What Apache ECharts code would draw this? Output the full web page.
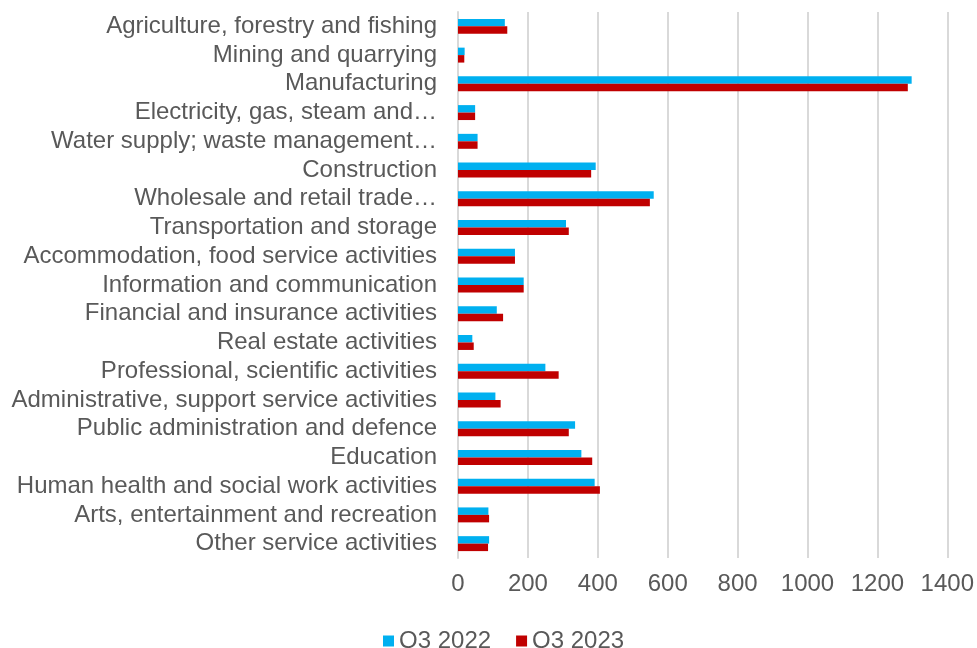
<!DOCTYPE html>
<html>
<head>
<meta charset="utf-8">
<script src="https://cdn.jsdelivr.net/npm/echarts@6/dist/echarts.min.js"></script>
<style>
html,body{margin:0;padding:0;background:#fff;}
#chart{width:977px;height:648px;}
</style>
</head>
<body>
<div id="chart"></div>
<script>
var categories = [
  "Agriculture, forestry and fishing",
  "Mining and quarrying",
  "Manufacturing",
  "Electricity, gas, steam and\u2026",
  "Water supply; waste management\u2026",
  "Construction",
  "Wholesale and retail trade\u2026",
  "Transportation and storage",
  "Accommodation, food service activities",
  "Information and communication",
  "Financial and insurance activities",
  "Real estate activities",
  "Professional, scientific activities",
  "Administrative, support service activities",
  "Public administration and defence",
  "Education",
  "Human health and social work activities",
  "Arts, entertainment and recreation",
  "Other service activities"
];
var q3_2022 = [134, 19, 1298, 49, 56, 394, 560, 309, 163, 188, 111, 41, 250, 107, 335, 353, 391, 87, 89];
var q3_2023 = [141, 18, 1287, 49, 56, 381, 549, 317, 163, 188, 129, 45, 288, 122, 317, 384, 406, 89, 86];
var xTicks = {min: 0, max: 1400, interval: 200};

var font = "Liberation Sans, Arial, sans-serif";
var chart = echarts.init(document.getElementById('chart'), null, {renderer: 'canvas'});
chart.setOption({
  animation: false,
  backgroundColor: '#ffffff',
  textStyle: {fontFamily: font},
  legend: {
    left: 378, top: 624,
    itemWidth: 11, itemHeight: 11, itemGap: 25,
    icon: 'rect',
    textStyle: {fontFamily: font, fontSize: 24, color: '#595959'},
    data: ['Q3 2022', 'Q3 2023']
  },
  grid: {left: 458, right: 28, top: 12, bottom: 90, containLabel: false},
  xAxis: {
    type: 'value', min: xTicks.min, max: xTicks.max, interval: xTicks.interval,
    axisLine: {show: false}, axisTick: {show: false},
    axisLabel: {fontFamily: font, fontSize: 24, color: '#595959', margin: 14,
      formatter: function (v) { return String(v); }},
    splitLine: {show: true, lineStyle: {color: '#d9d9d9', width: 2}}
  },
  yAxis: {
    type: 'category', data: categories, inverse: true,
    axisLine: {show: true, lineStyle: {color: '#d9d9d9', width: 2}},
    axisTick: {show: false},
    axisLabel: {fontFamily: font, fontSize: 24, color: '#595959', margin: 21, interval: 0}
  },
  series: [
    {name: 'Q3 2022', type: 'bar', data: q3_2022, itemStyle: {color: '#00B0F0'}, barGap: '0%', barCategoryGap: '48%'},
    {name: 'Q3 2023', type: 'bar', data: q3_2023, itemStyle: {color: '#C00000'}, barGap: '0%', barCategoryGap: '48%'}
  ]
});
</script>
</body>
</html>
